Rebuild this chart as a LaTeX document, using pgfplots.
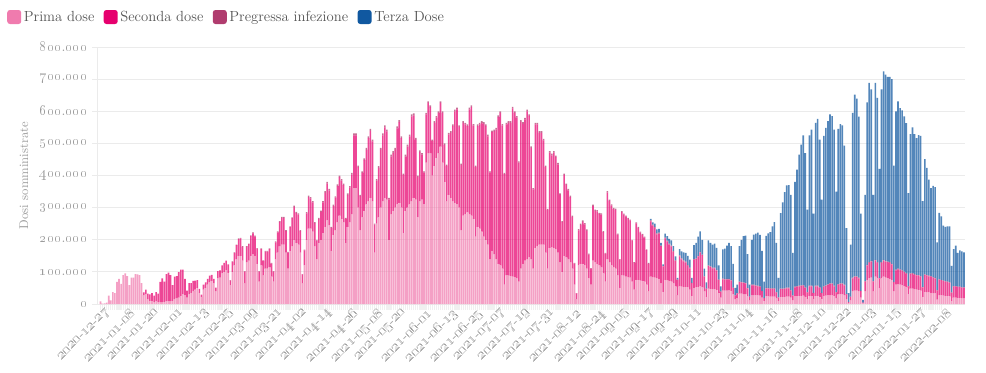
\documentclass[border=0pt]{standalone}
\usepackage{pgfplots}
\pgfplotsset{compat=1.18}
\usepackage{pgfplotstable}
\definecolor{cP}{HTML}{F07BAE}
\definecolor{cS}{HTML}{E6006E}
\definecolor{cG}{HTML}{B03C6E}
\definecolor{cZ}{HTML}{1058A0}
\definecolor{gridc}{HTML}{EBEBEB}
\definecolor{tickc}{HTML}{9C9C9C}
\definecolor{legc}{HTML}{555555}
\newcommand\osn[1]{\oldstylenums{#1}}
\newcommand\dt[3]{\osn{#1}-\osn{#2}-\osn{#3}}
% values in thousands of doses per day; d = days since 2020-12-27
\pgfplotstableread{
d P S G Z
0 8 0 0 0
1 1 0 0 0
2 2 0 0 0
3 4 0 0 0
4 26 0 0 0
5 11 0 0 0
6 37 0 0 0
7 34 0 0 0
8 69 0 0 0
9 78 0 0 0
10 63 0 0 0
11 90 0 0 0
12 95 0 0 0
13 87 0 0 0
14 59 0 0 0
15 82 0 0 0
16 82 0 0 0
17 93 0 0 0
18 92 0 0 0
19 90 0 0 0
20 65 0 0 0
21 28 8 0 0
22 30 15 0 0
23 15 17 0 0
24 10 20 0 0
25 10 24 0 0
26 6 20 0 0
27 8 29 0 0
28 5 27 0 0
29 6 63 0 0
30 6 74 0 0
31 7 63 0 0
32 8 85 0 0
33 8 90 0 0
34 9 81 0 0
35 10 49 0 0
36 15 70 0 0
37 18 69 0 0
38 20 79 0 0
39 25 82 0 0
40 30 77 0 0
41 27 51 0 0
42 20 22 0 0
43 30 35 0 0
44 35 30 0 0
45 40 32 0 0
46 45 28 0 0
47 50 24 0 0
48 35 12 0 0
49 22 7 0 0
50 45 15 0 0
51 50 17 0 0
52 60 18 0 0
53 68 20 0 0
54 72 19 0 0
55 64 14 0 0
56 40 11 0 0
57 80 22 0 0
58 82 23 0 0
59 95 25 0 0
60 100 28 0 0
61 105 30 0 0
62 97 26 0 0
63 58 15 1 0
64 100 31 2 0
65 120 39 2 0
66 140 43 2 0
67 150 52 2 0
68 150 54 2 0
69 135 43 2 0
70 65 36 1 0
71 130 48 2 0
72 135 51 2 0
73 150 61 3 0
74 155 65 3 0
75 150 60 3 0
76 125 47 2 0
77 70 31 1 0
78 120 51 2 0
79 90 44 2 0
80 110 53 2 0
81 110 53 2 0
82 115 56 2 0
83 85 41 2 0
84 70 31 1 0
85 140 52 3 0
86 160 63 3 0
87 180 75 3 0
88 185 83 3 0
89 185 83 3 0
90 160 67 3 0
91 110 50 2 0
92 165 74 3 0
93 180 87 3 0
94 200 102 4 0
95 190 93 4 0
96 185 93 4 0
97 160 67 3 0
98 65 27 1 0
99 120 47 2 0
100 200 82 4 0
101 235 98 4 0
102 235 94 4 0
103 225 91 4 0
104 180 72 3 0
105 140 57 3 0
106 190 74 4 0
107 200 87 4 0
108 220 96 4 0
109 240 106 5 0
110 260 115 5 0
111 245 108 5 0
112 165 72 3 0
113 215 90 4 0
114 230 101 4 0
115 255 112 5 0
116 275 120 5 0
117 265 119 5 0
118 255 115 5 0
119 190 75 3 0
120 240 99 5 0
121 255 107 5 0
122 280 123 5 0
123 360 165 6 0
124 360 165 6 0
125 300 126 5 0
126 230 106 4 0
127 270 138 5 0
128 290 158 5 0
129 310 170 6 0
130 320 196 6 0
131 330 209 6 0
132 320 186 6 0
133 160 87 3 0
134 250 134 5 0
135 270 154 5 0
136 300 180 6 0
137 320 205 6 0
138 330 220 6 0
139 325 212 6 0
140 200 126 4 0
141 280 179 6 0
142 290 180 6 0
143 300 180 6 0
144 310 237 6 0
145 315 251 6 0
146 300 216 6 0
147 220 182 4 0
148 290 169 6 0
149 300 190 6 0
150 310 211 6 0
151 320 264 6 0
152 330 257 6 0
153 325 186 6 0
154 270 126 4 0
155 320 153 5 0
156 325 140 5 0
157 310 99 4 0
158 440 150 5 0
159 470 156 5 0
160 470 143 5 0
161 400 108 4 0
162 430 134 5 0
163 455 125 5 0
164 470 125 5 0
165 490 136 5 0
166 440 155 5 0
167 380 115 5 0
168 320 110 4 0
169 340 188 5 0
170 330 203 5 0
171 320 234 5 0
172 315 285 5 0
173 310 296 5 0
174 300 251 5 0
175 230 203 4 0
176 275 289 5 0
177 280 279 5 0
178 285 269 5 0
179 280 326 5 0
180 275 338 5 0
181 265 290 5 0
182 210 217 4 0
183 240 314 5 0
184 235 324 5 0
185 225 339 5 0
186 210 351 5 0
187 200 354 5 0
188 185 337 5 0
189 140 269 4 0
190 165 370 5 0
191 155 383 5 0
192 140 403 5 0
193 125 457 5 0
194 120 475 5 0
195 110 445 5 0
196 60 344 4 0
197 90 469 5 0
198 88 476 5 0
199 86 478 5 0
200 85 524 5 0
201 83 512 5 0
202 80 500 5 0
203 70 370 4 0
204 110 457 5 0
205 125 436 5 0
206 135 439 5 0
207 140 460 5 0
208 145 440 5 0
209 140 346 5 0
210 110 247 4 0
211 175 384 5 0
212 180 379 5 0
213 185 348 5 0
214 185 348 5 0
215 185 324 5 0
216 160 267 4 0
217 110 183 3 0
218 175 296 5 0
219 177 286 5 0
220 175 296 5 0
221 170 287 5 0
222 160 274 5 0
223 130 210 4 0
224 100 155 3 0
225 150 252 4 0
226 145 226 4 0
227 140 214 4 0
228 130 203 4 0
229 110 161 4 0
230 60 66 2 0
231 15 18 1 0
232 120 109 4 0
233 125 121 4 0
234 125 131 4 0
235 120 128 4 0
236 110 118 4 0
237 80 74 3 0
238 60 50 2 0
239 135 170 4 0
240 130 160 4 0
241 125 163 4 0
242 120 160 4 0
243 115 163 4 0
244 95 129 3 0
245 70 87 2 0
246 140 207 4 0
247 130 191 4 0
248 120 186 4 0
249 115 180 4 0
250 110 183 4 0
251 90 126 3 0
252 50 88 2 0
253 90 196 3 0
254 88 190 3 0
255 85 187 3 0
256 84 181 3 0
257 82 178 3 0
258 70 128 2 0
259 45 83 2 0
260 75 176 3 0
261 75 162 3 0
262 73 149 3 0
263 72 143 3 0
264 70 137 3 0
265 60 108 2 0
266 40 85 2 1
267 85 172 3 5
268 84 160 3 7
269 82 155 3 10
270 80 137 3 12
271 78 141 3 12
272 65 115 2 8
273 38 79 2 4
274 75 129 3 12
275 74 120 3 14
276 72 113 3 15
277 70 109 3 16
278 65 97 3 15
279 55 79 2 12
280 28 47 1 5
281 55 93 3 20
282 54 85 3 22
283 53 80 3 25
284 53 76 3 27
285 52 67 3 28
286 45 66 2 25
287 25 40 1 15
288 50 88 2 43
289 52 88 2 48
290 53 95 2 60
291 55 105 2 64
292 52 100 2 46
293 40 45 1 24
294 22 25 1 19
295 48 70 2 78
296 47 68 2 73
297 46 65 2 72
298 46 65 2 75
299 44 60 2 69
300 35 40 1 44
301 20 18 1 16
302 42 35 2 91
303 42 34 2 94
304 42 34 2 104
305 43 33 2 112
306 41 32 2 105
307 30 20 1 74
308 15 12 1 22
309 18 15 1 26
310 32 36 2 110
311 32 35 2 131
312 31 34 2 144
313 31 33 2 147
314 24 25 1 105
315 12 10 1 37
316 28 30 2 140
317 28 30 2 156
318 27 29 2 161
319 27 28 2 165
320 26 27 2 160
321 20 20 1 124
322 10 8 1 51
323 24 24 2 162
324 24 24 2 170
325 23 24 2 175
326 23 24 2 193
327 23 24 2 206
328 18 18 1 153
329 10 10 1 60
330 22 24 2 235
331 22 24 2 268
332 22 25 2 299
333 23 26 2 318
334 23 26 2 319
335 20 22 1 297
336 12 14 1 132
337 24 28 2 326
338 24 30 2 362
339 25 30 2 408
340 25 31 2 438
341 26 31 2 466
342 22 28 2 418
343 16 20 1 257
344 25 30 2 468
345 25 30 2 486
346 16 18 1 246
347 25 30 2 507
348 25 30 2 519
349 22 28 2 460
350 16 18 1 290
351 25 28 2 468
352 26 30 2 490
353 27 32 2 508
354 28 34 2 526
355 28 34 2 521
356 25 30 2 486
357 18 18 1 313
358 30 30 2 483
359 30 32 2 496
360 30 32 2 492
361 28 30 2 433
362 15 15 1 205
363 3 3 0 28
364 12 10 1 162
365 40 40 2 513
366 42 42 2 566
367 42 42 2 553
368 40 40 2 501
369 20 20 1 240
370 2 2 0 9
371 40 30 1 269
372 75 45 2 506
373 80 48 2 558
374 82 50 2 534
375 40 30 1 269
376 85 50 2 551
377 80 48 2 512
378 50 30 1 340
379 80 48 2 538
380 85 50 2 587
381 82 50 2 580
382 80 50 2 575
383 78 50 2 577
384 75 48 2 575
385 40 28 1 362
386 60 45 2 493
387 62 46 2 521
388 60 46 2 502
389 58 45 2 498
390 55 44 2 483
391 52 42 2 467
392 30 25 1 289
393 48 45 2 434
394 48 46 2 454
395 46 45 2 436
396 45 44 2 425
397 44 44 2 436
398 42 43 2 436
399 22 30 1 267
400 38 52 2 359
401 37 52 2 333
402 36 50 2 299
403 35 50 2 274
404 34 48 2 284
405 33 46 2 283
406 14 28 1 149
407 28 48 1 207
408 27 47 1 198
409 26 46 1 171
410 25 45 1 169
411 25 44 1 172
412 24 42 1 175
413 10 25 1 83
414 20 35 1 115
415 20 35 1 126
416 19 34 1 105
417 19 34 1 113
418 18 33 1 112
419 18 33 1 109
}\vacc

\begin{document}
\begin{tikzpicture}
\useasboundingbox (-73.5pt,-51pt) rectangle (666pt,228pt);
\begin{axis}[
  scale only axis, width=650.25pt, height=192.75pt,
  xmin=-1.2, xmax=419.5, ymin=0, ymax=800,
  enlargelimits=false,
  ybar stacked, bar width=1.2pt,
  axis x line*=bottom, axis y line*=left,
  axis line style={draw=gridc, line width=0.75pt},
  ymajorgrids, major grid style={draw=gridc, line width=0.75pt},
  tick align=outside,
  major tick length=4.5pt, minor tick length=4.5pt,
  x tick style={draw=black!6, line width=0.9pt},
  minor x tick style={draw=black!6, line width=0.9pt},
  y tick style={draw=gridc, line width=0.75pt},
  xtick={0,12,...,408}, minor x tick num=11,
  xticklabels={\dt{2020}{12}{27},\dt{2021}{01}{08},\dt{2021}{01}{20},\dt{2021}{02}{01},\dt{2021}{02}{13},\dt{2021}{02}{25},\dt{2021}{03}{09},\dt{2021}{03}{21},\dt{2021}{04}{02},\dt{2021}{04}{14},\dt{2021}{04}{26},\dt{2021}{05}{08},\dt{2021}{05}{20},\dt{2021}{06}{01},\dt{2021}{06}{13},\dt{2021}{06}{25},\dt{2021}{07}{07},\dt{2021}{07}{19},\dt{2021}{07}{31},\dt{2021}{08}{12},\dt{2021}{08}{24},\dt{2021}{09}{05},\dt{2021}{09}{17},\dt{2021}{09}{29},\dt{2021}{10}{11},\dt{2021}{10}{23},\dt{2021}{11}{04},\dt{2021}{11}{16},\dt{2021}{11}{28},\dt{2021}{12}{10},\dt{2021}{12}{22},\dt{2022}{01}{03},\dt{2022}{01}{15},\dt{2022}{01}{27},\dt{2022}{02}{08}},
  xticklabel style={rotate=45, anchor=north east, xshift=4.5pt, inner sep=1pt, font=\fontsize{10.5}{12}\selectfont, text=tickc},
  ytick={0,100,...,800},
  yticklabels={\osn{0},\osn{100}.\osn{000},\osn{200}.\osn{000},\osn{300}.\osn{000},\osn{400}.\osn{000},\osn{500}.\osn{000},\osn{600}.\osn{000},\osn{700}.\osn{000},\osn{800}.\osn{000}},
  yticklabel style={font=\fontsize{10.5}{12}\selectfont, text=tickc},
  ylabel={Dosi somministrate},
  ylabel style={at={(axis description cs:-0.0854,0.5)}, anchor=center, font=\fontsize{9.5}{11}\selectfont, text=tickc},
  legend columns=4,
  legend cell align=left,
  legend style={at={(-0.105,1.1167)}, anchor=west, draw=none, fill=none, inner sep=0pt,
    font=\fontsize{11}{13}\selectfont, text=legc,
    nodes={inner sep=2pt},
    /tikz/every even column/.append style={column sep=5pt}},
]
\addplot[fill=cP, fill opacity=0.72, draw=none,
  legend image code/.code={\fill[cP, fill opacity=1, rounded corners=2pt] (0pt,-5.25pt) rectangle (10.5pt,5.25pt);}]
  table[x=d, y=P]{\vacc};
\addlegendentry{Prima dose}
\addplot[fill=cS, fill opacity=0.72, draw=none,
  legend image code/.code={\fill[cS, fill opacity=1, rounded corners=2pt] (0pt,-5.25pt) rectangle (10.5pt,5.25pt);}]
  table[x=d, y=S]{\vacc};
\addlegendentry{Seconda dose}
\addplot[fill=cG, fill opacity=0.72, draw=none,
  legend image code/.code={\fill[cG, fill opacity=1, rounded corners=2pt] (0pt,-5.25pt) rectangle (10.5pt,5.25pt);}]
  table[x=d, y=G]{\vacc};
\addlegendentry{Pregressa infezione}
\addplot[fill=cZ, fill opacity=0.72, draw=none,
  legend image code/.code={\fill[cZ, fill opacity=1, rounded corners=2pt] (0pt,-5.25pt) rectangle (10.5pt,5.25pt);}]
  table[x=d, y=Z]{\vacc};
\addlegendentry{Terza Dose}
\end{axis}
\end{tikzpicture}
\end{document}
